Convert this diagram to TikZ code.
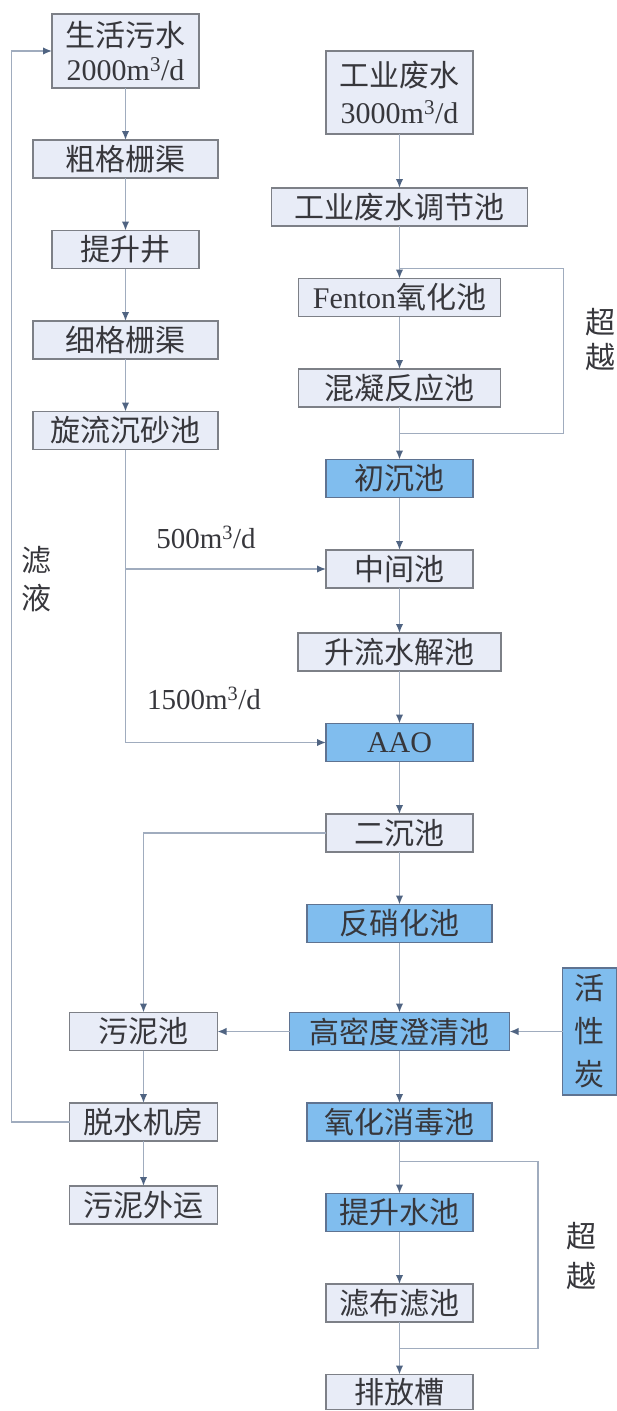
\documentclass[tikz,border=0pt]{standalone}
\usepackage{fontspec}
\setmainfont{Liberation Serif}
\newfontfamily\cjk{Noto Sans CJK SC}
\usetikzlibrary{positioning, calc, arrows.meta}
\definecolor{boxfill}{RGB}{232,236,247}
\definecolor{boxline}{RGB}{125,128,135}
\definecolor{hotfill}{RGB}{128,189,238}
\definecolor{hotline}{RGB}{95,115,145}
\definecolor{flow}{RGB}{160,172,190}
\definecolor{tipcol}{RGB}{80,100,130}
\definecolor{ink}{RGB}{55,55,60}

\begin{document}
\begin{tikzpicture}[x=1pt, y=-1pt, node distance=52.5pt and 72pt, box/.style={draw=boxline, line width=1.4pt, fill=boxfill, minimum height=38pt, inner sep=0pt, outer sep=0pt, text=ink, font=\fontsize{30}{34}\selectfont\cjk}, hot/.style={box, draw=hotline, fill=hotfill}, note/.style={text=ink, inner sep=0pt, align=center, font=\fontsize{29}{38}\selectfont}, arrow/.style={-{Latex[length=9pt, width=7.5pt, color=tipcol]}, draw=flow, line width=1.5pt}, flowline/.style={draw=flow, line width=1.5pt}]
      \useasboundingbox (0,0) rectangle (617,1411);
      \node[box, minimum width=147pt, minimum height=74pt, align=center] (domestic) at (125.5,51) {生活污水\\{\rmfamily 2000m\textsuperscript{3}/d}};
      \node[box, minimum width=185pt, below=52pt of domestic] (coarse) {粗格栅渠}; \node[box, minimum width=147pt, below=of coarse] (liftwell) {提升井};
      \node[box, minimum width=185pt, below=of liftwell] (fine) {细格栅渠}; \node[box, minimum width=185pt, below=of fine] (grit) {旋流沉砂池};
      \node[box, minimum width=147pt, minimum height=83pt, align=center, font=\fontsize{30}{37}\selectfont\cjk] (industrial) at (399.5,92.5) {工业废水\\{\rmfamily 3000m\textsuperscript{3}/d}};
      \node[box, minimum width=256pt, below=54pt of industrial] (equal) {工业废水调节池}; \node[box, minimum width=202pt, below=of equal] (fenton) {{\rmfamily Fenton}氧化池};
      \node[box, minimum width=202pt, below=of fenton] (coag) {混凝反应池}; \node[hot, minimum width=147pt, below=of coag] (primary) {初沉池};
      \node[box, minimum width=147pt, below=of primary] (inter) {中间池}; \node[box, minimum width=203pt, below=45pt of inter] (hydro) {升流水解池};
      \node[hot, minimum width=147pt, below=of hydro] (aao) {\rmfamily AAO}; \node[box, minimum width=147pt, below=of aao] (second) {二沉池};
      \node[hot, minimum width=185pt, below=of second] (denit) {反硝化池}; \node[hot, minimum width=220pt, below=70pt of denit] (hdc) {高密度澄清池};
      \node[hot, minimum width=54pt, minimum height=127pt, align=center, font=\fontsize{30}{43}\selectfont\cjk, right=53pt of hdc] (carbon) {活\\性\\炭};
      \node[box, minimum width=148pt, left=of hdc] (sludge) {污泥池}; \node[box, minimum width=148pt, below=of sludge] (dewater) {脱水机房};
      \node[box, minimum width=148pt, below=45pt of dewater] (haul) {污泥外运};
      \node[hot, minimum width=185pt, below=of hdc] (disinf) {氧化消毒池}; \node[hot, minimum width=147pt, below=of disinf] (liftpool) {提升水池};
      \node[box, minimum width=147pt, below=of liftpool] (cloth) {滤布滤池}; \node[box, minimum width=147pt, minimum height=35pt, below=of cloth] (outlet) {排放槽};

      \node[note] (q500) at (206,537) {500m\textsuperscript{3}/d}; \node[note] (q1500) at (204,698) {1500m\textsuperscript{3}/d};
      \node[note, font=\fontsize{30}{38}\selectfont\cjk] (filtrate) at (36,579) {滤\\液};
      \node[note, font=\fontsize{30}{35}\selectfont\cjk] (skipa) at (600,340) {超\\越}; \node[note, font=\fontsize{30}{40}\selectfont\cjk] (skipb) at (581,1256) {超\\越};
      \coordinate (splita) at ($(fenton.north)+(0,-10)$); \coordinate (joina) at ($(coag.south)!0.5!(primary.north)$);
      \coordinate (splitb) at ($(liftpool.north)+(0,-32)$); \coordinate (joinb) at ($(cloth.south)!0.5!(outlet.north)$);

      \draw[arrow] (domestic) -- (coarse); \draw[arrow] (coarse) -- (liftwell); \draw[arrow] (liftwell) -- (fine);
      \draw[arrow] (fine) -- (grit); \draw[arrow] (grit.south) |- (aao.west); \draw[arrow] (grit.south |- inter.west) -- (inter.west);
      \draw[arrow] (industrial) -- (equal); \draw[arrow] (equal) -- (fenton); \draw[arrow] (fenton) -- (coag);
      \draw[arrow] (coag) -- (primary); \draw[arrow] (primary) -- (inter); \draw[arrow] (inter) -- (hydro);
      \draw[arrow] (hydro) -- (aao); \draw[arrow] (aao) -- (second); \draw[arrow] (second) -- (denit);
      \draw[arrow] (denit) -- (hdc); \draw[arrow] (carbon) -- (hdc); \draw[arrow] (hdc) -- (sludge);
      \draw[arrow] (second.west) -| (sludge.north); \draw[arrow] (sludge) -- (dewater); \draw[arrow] (dewater) -- (haul);
      \draw[arrow] (dewater.west) -- ++(-58,0) |- (domestic.west); \draw[arrow] (hdc) -- (disinf);
      \draw[arrow] (disinf) -- (liftpool); \draw[arrow] (liftpool) -- (cloth); \draw[arrow] (cloth) -- (outlet);
      \draw[flowline] (splita) -- ++(164,0) |- (joina); \draw[flowline] (splitb) -- ++(138.5,0) |- (joinb);
    \end{tikzpicture}
\end{document}
